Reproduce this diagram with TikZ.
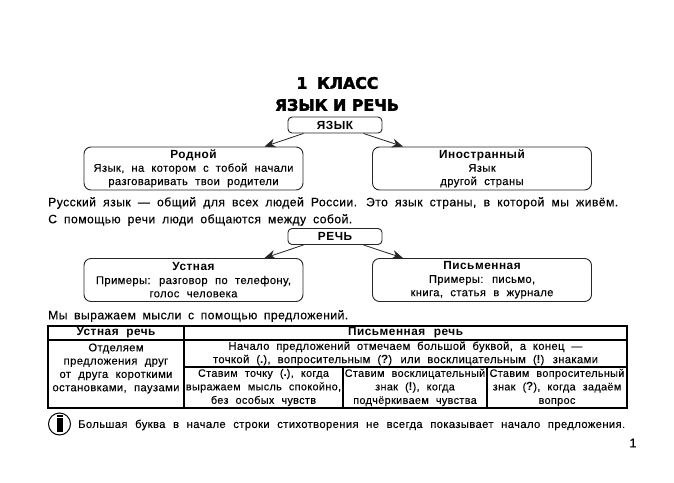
\documentclass[tikz,border=0pt]{standalone}
\usepackage{fontspec}
\setmainfont{Liberation Sans}[LetterSpace=3.5,WordSpace=2.1,FakeBold=0.1]
\newfontfamily\titlefont{DejaVu Sans Bold}[FakeBold=2.5]
\newfontfamily\boldbody{Liberation Sans Bold}[LetterSpace=4.5,WordSpace=2]
\usetikzlibrary{arrows.meta}
\newcommand{\bodyfont}{\fontsize{11.2}{13.3}\selectfont}
\newcommand{\cellfont}{\fontsize{10.8}{13.5}\selectfont}
\newcommand{\parafont}{\fontsize{12.2}{13.3}\selectfont}
\newcommand{\hd}[1]{{\boldbody\fontsize{11.8}{13.3}\selectfont #1}}
\newcommand{\fitline}[2]{\makebox[#1pt][s]{#2}}
\tikzset{
  x=1pt,y=-1pt,
  textline/.style={inner sep=0pt,font=\parafont,anchor=west},
  infobox/.style={draw=black!85,line width=0.9pt,rounded corners=7pt,minimum width=219pt,minimum height=43pt,inner sep=0pt,align=center,font=\bodyfont},
  topicbox/.style={draw=black!85,line width=0.9pt,rounded corners=4pt,minimum width=94pt,minimum height=16pt,inner sep=0pt,font=\bodyfont},
  cell/.style={draw=black,line width=1.2pt,inner sep=0pt,align=center,font=\bodyfont,minimum height=#1},
  smallcell/.style={cell=#1,font=\cellfont},
  link/.style={draw=black!85,line width=0.8pt,-{Stealth[length=11pt,width=9pt]}},
  titletext/.style={inner sep=0pt,font=\titlefont\fontsize{15.8}{18}\selectfont}
}
\begin{document}
\begin{tikzpicture}
\useasboundingbox (0,0) rectangle (674,482);
\fill[white] (0,0) rectangle (674,482);
\node[titletext] (t1) at (337.5,83) {1\hspace{0.25em} КЛАСС};
\node[titletext] (t2) at (337,105) {ЯЗЫК И РЕЧЬ};

\node[topicbox] (lang) at (335,125) {\hd{ЯЗЫК}};
\node[infobox] (nat) at (193.5,168.5) {\hd{Родной}\\\fitline{200}{Язык, на котором с тобой начали}\\разговаривать твои родители};
\node[infobox] (for) at (482,168.5) {\hd{Иностранный}\\Язык\\другой страны};
\draw[link] ([xshift=16pt]lang.south west) -- ([xshift=71pt]nat.north);
\draw[link] ([xshift=-19pt]lang.south east) -- ([xshift=-79pt]for.north);

\node[textline] (p1) at (48,203) {\fitline{570}{Русский язык — общий для всех людей России. Это язык страны, в которой мы живём.}};
\node[textline] (p2) at (48,220) {\fitline{304}{С помощью речи люди общаются между собой.}};

\node[topicbox] (speech) at (335,236.5) {\hd{РЕЧЬ}};
\node[infobox] (oral) at (193.5,280) {\hd{Устная}\\Примеры: разговор по телефону,\\голос человека};
\node[infobox] (writ) at (482,280) {\hd{Письменная}\\Примеры: письмо,\\книга, статья в журнале};
\draw[link] ([xshift=16pt]speech.south west) -- ([xshift=71pt]oral.north);
\draw[link] ([xshift=-19pt]speech.south east) -- ([xshift=-79pt]writ.north);

\node[textline] (p3) at (48,316) {\fitline{300}{Мы выражаем мысли с помощью предложений.}};

\node[cell=14pt,minimum width=136pt] (h1) at (116,333) {\hd{Устная речь}};
\node[cell=14pt,minimum width=443pt] (h2) at (405.5,333) {\hd{\fitline{115}{Письменная речь}}};
\node[cell=68pt,minimum width=136pt] (c1) at (116,374) {Отделяем\\предложения друг\\от друга короткими\\остановками, паузами\\\mbox{}};
\node[cell=27pt,minimum width=443pt] (c2) at (405.5,353.5) {\fitline{354}{Начало предложений отмечаем большой буквой, а конец —}\\\fitline{385}{точкой (\hd{.}), вопросительным (\hd{?}) или восклицательным (\hd{!}) знаками}};
\node[smallcell=41pt,minimum width=159pt] (c3) at (263.5,387.5) {Ставим точку (\hd{.}), когда\\выражаем мысль спокойно,\\без особых чувств};
\node[smallcell=41pt,minimum width=144pt] (c4) at (415,387.5) {Ставим восклицательный\\знак (\hd{!}), когда\\подчёркиваем чувства};
\node[smallcell=41pt,minimum width=140pt] (c5) at (557,387.5) {Ставим вопросительный\\знак (\hd{?}), когда задаём\\вопрос};
\draw[line width=1.7pt] (48,326) rectangle (627,408);

\node[draw=black,line width=1pt,circle,minimum size=22pt,inner sep=0pt] (icon) at (59.5,424) {};
\fill[black] ([xshift=-3pt,yshift=-8pt]icon.center) rectangle ([xshift=3pt,yshift=6pt]icon.center);
\fill[black] ([xshift=-3pt,yshift=7.5pt]icon.center) rectangle ([xshift=3pt,yshift=9.5pt]icon.center);
\node[textline,font=\bodyfont] (note) at (78,425) {\fitline{547}{Большая буква в начале строки стихотворения не всегда показывает начало предложения.}};
\node[inner sep=0pt,font=\fontsize{12.5}{14}\selectfont] (page) at (633,443) {1};
\end{tikzpicture}
\end{document}
